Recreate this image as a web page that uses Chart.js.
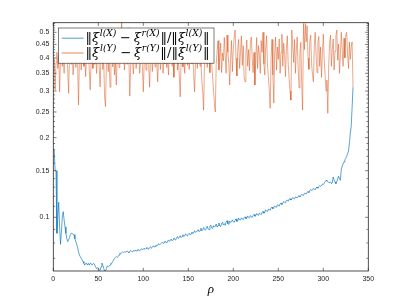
<!DOCTYPE html>
<html><head><meta charset="utf-8">
<script src="https://cdn.jsdelivr.net/npm/chart.js@4.4.0/dist/chart.umd.min.js"></script>
<style>html,body{margin:0;padding:0;background:#fff;}canvas{display:block;}</style>
</head><body>
<canvas id="c" width="407" height="305"></canvas>
<script>
// ---- data ----
const blueVals = [
0.180,0.150,0.150,0.087,0.100,0.114,0.092,0.079,0.088,0.100,
0.105,0.098,0.092,0.087,0.083,0.081,0.082,0.084,0.086,0.087,
0.087,0.086,0.086,0.083,0.081,0.079,0.077,0.074,0.072,0.071,
0.070,0.069,0.068,0.067,0.066,0.067,0.067,0.066,0.067,0.066,
0.067,0.067,0.066,0.066,0.067,0.066,0.065,0.064,0.0645,0.064,
0.0632,0.0630,0.0650,0.0672,0.0660,0.0640,0.0628,0.0628,0.0640,0.0655,
0.0650,0.0655,0.0660,0.0670,0.0670,0.0680,0.0690,0.0700,0.0705,0.0710,
0.0705,0.0710,0.0720,0.0733,0.0730,0.0735,0.0740,0.0735,0.0740,0.0740,
0.0738,0.0746,0.0741,0.0735,0.0744,0.0750,0.0743,0.0739,0.0748,0.0745,
0.0752,0.0744,0.0749,0.0757,0.0750,0.0746,0.0755,0.0761,0.0752,0.0758,
0.0765,0.0756,0.0762,0.0770,0.0761,0.0758,0.0768,0.0775,0.0764,0.0770,
0.0780,0.0771,0.0776,0.0786,0.0779,0.0784,0.0795,0.0787,0.0791,0.0797,
0.0805,0.0796,0.0802,0.0813,0.0806,0.0799,0.0812,0.0821,0.0810,0.0818,
0.0828,0.0815,0.0823,0.0835,0.0826,0.0820,0.0838,0.0846,0.0831,0.0840,
0.0852,0.0838,0.0847,0.0860,0.0845,0.0851,0.0866,0.0854,0.0849,0.0862,
0.0871,0.0858,0.0866,0.0880,0.0868,0.0874,0.0890,0.0877,0.0883,0.0886,
0.0898,0.0882,0.0893,0.0910,0.0889,0.0897,0.0915,0.0900,0.0893,0.0907,
0.0925,0.0904,0.0898,0.0922,0.0935,0.0912,0.0907,0.0930,0.0918,0.0926,
0.0943,0.0919,0.0931,0.0952,0.0928,0.0922,0.0948,0.0958,0.0936,0.0946,
0.0932,0.0960,0.0971,0.0945,0.0940,0.0968,0.0955,0.0962,0.0978,0.0963,
0.0957,0.0975,0.0986,0.0964,0.0972,0.0993,0.0980,0.0976,0.0995,0.0985,
0.0978,0.0996,0.1004,0.0988,0.0993,0.1012,0.0999,0.0995,0.1015,0.1005,
0.0998,0.1016,0.1025,0.1009,0.1014,0.1034,0.1021,0.1017,0.1038,0.1030,
0.1023,0.1045,0.1052,0.1036,0.1048,0.1067,0.1055,0.1050,0.1074,0.1070,
0.1062,0.1085,0.1093,0.1077,0.1088,0.1104,0.1096,0.1090,0.1115,0.1110,
0.1101,0.1124,0.1133,0.1118,0.1130,0.1148,0.1139,0.1134,0.1158,0.1160,
0.1150,0.1170,0.1176,0.1162,0.1171,0.1188,0.1179,0.1174,0.1193,0.1190,
0.1183,0.1200,0.1206,0.1195,0.1208,0.1222,0.1214,0.1210,0.1232,0.1230,
0.1224,0.1243,0.1251,0.1240,0.1262,0.1275,0.1262,0.1268,0.1285,0.1280,
0.1270,0.1292,0.1300,0.1288,0.1305,0.1318,0.1308,0.1316,0.1335,0.1330,
0.1345,0.1362,0.1380,0.1372,0.1360,0.1355,0.1350,0.1362,0.1340,0.1350,
0.1420,0.1385,0.1360,0.1340,0.1365,0.1400,0.1430,0.1395,0.1380,0.1520,
0.1560,0.1590,0.1620,0.1650,0.1670,0.1700,0.1740,0.1780,0.1900,0.2080,
0.2200,0.2600,0.3100
];
const orangeVals = [
0.400,0.303,0.385,0.420,0.365,0.410,0.298,0.395,0.440,0.372,
0.415,0.350,0.430,0.388,0.405,0.362,0.294,0.400,0.452,0.378,
0.420,0.345,0.398,0.435,0.368,0.412,0.380,0.266,0.390,0.425,
0.360,0.405,0.448,0.372,0.395,0.340,0.418,0.385,0.430,0.358,
0.303,0.392,0.440,0.365,0.410,0.378,0.425,0.350,0.398,0.445,
0.372,0.311,0.405,0.430,0.362,0.395,0.285,0.262,0.380,0.418,
0.355,0.400,0.310,0.388,0.440,0.370,0.412,0.345,0.395,0.316,
0.405,0.438,0.368,0.420,0.480,0.550,0.392,0.430,0.360,0.415,
0.445,0.378,0.520,0.400,0.287,0.372,0.425,0.390,0.348,0.410,
0.440,0.365,0.402,0.385,0.430,0.350,0.395,0.420,0.372,0.298,
0.388,0.435,0.360,0.408,0.445,0.378,0.310,0.400,0.425,0.355,
0.398,0.440,0.370,0.415,0.385,0.325,0.405,0.450,0.362,0.395,
0.428,0.350,0.410,0.380,0.440,0.368,0.402,0.345,0.420,0.390,
0.455,0.372,0.400,0.338,0.418,0.385,0.430,0.360,0.398,0.342,
0.285,0.392,0.438,0.370,0.412,0.350,0.405,0.445,0.375,0.420,
0.362,0.400,0.432,0.380,0.415,0.345,0.298,0.390,0.428,0.365,
0.410,0.440,0.372,0.395,0.330,0.300,0.254,0.385,0.420,0.455,
0.368,0.400,0.438,0.352,0.415,0.382,0.340,0.300,0.270,0.250,
0.378,0.425,0.465,0.360,0.405,0.455,0.352,0.418,0.390,0.478,
0.410,0.350,0.488,0.420,0.380,0.316,0.398,0.465,0.355,0.430,
0.480,0.510,0.400,0.342,0.438,0.470,0.365,0.420,0.485,0.375,
0.445,0.340,0.325,0.415,0.468,0.372,0.430,0.358,0.460,0.480,
0.405,0.352,0.420,0.316,0.398,0.478,0.365,0.445,0.410,0.350,
0.465,0.420,0.500,0.380,0.345,0.438,0.485,0.375,0.340,0.300,
0.258,0.400,0.470,0.345,0.270,0.418,0.480,0.360,0.440,0.395,
0.472,0.350,0.420,0.492,0.372,0.455,0.410,0.340,0.435,0.485,
0.380,0.335,0.300,0.277,0.510,0.445,0.385,0.470,0.350,0.428,
0.480,0.372,0.308,0.415,0.458,0.320,0.254,0.540,0.430,0.540,
0.460,0.530,0.400,0.362,0.462,0.488,0.380,0.345,0.325,0.440,
0.500,0.410,0.352,0.458,0.482,0.372,0.440,0.338,0.415,0.492,
0.395,0.345,0.300,0.330,0.247,0.375,0.455,0.488,0.372,0.432,
0.472,0.360,0.425,0.485,0.510,0.392,0.452,0.350,0.415,0.500,
0.432,0.372,0.475,0.400,0.490,0.500,0.410,0.365,0.460,0.395,
0.440,0.460,0.310
];
const rho = blueVals.map((_, i) => i + 1);
const xTicks = [0, 50, 100, 150, 200, 250, 300, 350];
const yTicks = [0.1, 0.15, 0.2, 0.25, 0.3, 0.35, 0.4, 0.45, 0.5];
const yTickLabels = ['0.1', '0.15', '0.2', '0.25', '0.3', '0.35', '0.4', '0.45', '0.5'];
const yMinorTicks = [0.07,0.08,0.09,0.11,0.12,0.13,0.14,0.16,0.17,0.18,0.19,0.21,0.22,0.23,0.24,0.26,0.27,0.28,0.29,0.31,0.32,0.33,0.34,0.36,0.37,0.38,0.39,0.41,0.42,0.43,0.44,0.46,0.47,0.48,0.49,0.51,0.52,0.53,0.54];
const xLabel = 'ρ';
const legendParts = [
  [['‖','n'],['ξ','i'],['l(X)','s'],['−','m'],['ξ','i'],['r(X)','s'],['‖/‖','n'],['ξ','i'],['l(X)','s'],['‖','n']],
  [['‖','n'],['ξ','i'],['l(Y)','s'],['−','m'],['ξ','i'],['r(Y)','s'],['‖/‖','n'],['ξ','i'],['l(Y)','s'],['‖','n']]
];
const BLUE = '#0072BD', ORANGE = '#D95319';
const seriesColors = [BLUE, ORANGE];

const axesPlugin = {
  id: 'maxes',
  afterDatasetsDraw(chart) {
    const {ctx, chartArea: ca, scales: {x, y}} = chart;
    ctx.save();
    ctx.strokeStyle = '#262626';
    ctx.lineWidth = 0.6;
    ctx.beginPath();
    xTicks.forEach(v => {
      const px = x.getPixelForValue(v);
      ctx.moveTo(px, ca.bottom); ctx.lineTo(px, ca.bottom - 3.2);
      ctx.moveTo(px, ca.top); ctx.lineTo(px, ca.top + 3.2);
    });
    yTicks.forEach(v => {
      const py = y.getPixelForValue(v);
      ctx.moveTo(ca.left, py); ctx.lineTo(ca.left + 3.2, py);
      ctx.moveTo(ca.right, py); ctx.lineTo(ca.right - 3.2, py);
    });
    yMinorTicks.forEach(v => {
      const py = y.getPixelForValue(v);
      ctx.moveTo(ca.left, py); ctx.lineTo(ca.left + 1.8, py);
      ctx.moveTo(ca.right, py); ctx.lineTo(ca.right - 1.8, py);
    });
    ctx.stroke();
    ctx.lineWidth = 0.8;
    ctx.strokeRect(ca.left, ca.top, ca.right - ca.left, ca.bottom - ca.top);
    ctx.restore();
  },
  afterDraw(chart) {
    const {ctx, chartArea: ca} = chart;
    const bx = ca.left + 5.2, by = ca.top + 5.3, bw = 155.5, bh = 35.2;
    ctx.save();
    ctx.fillStyle = '#fff';
    ctx.fillRect(bx, by, bw, bh);
    ctx.strokeStyle = '#262626';
    ctx.lineWidth = 0.6;
    ctx.strokeRect(bx, by, bw, bh);
    const fam = '"DejaVu Serif","Liberation Serif",serif';
    const fontFor = (k, s) => k === 'i' ? `italic ${s}px ${fam}` : k === 's' ? `italic ${s * 0.7}px ${fam}` : `${s}px ${fam}`;
    const gapAfter = (k, s) => k === 'i' ? s * 0.04 : k === 's' ? s * 0.06 : 0;
    const gapBefore = (k, s) => k === 'm' ? s * 0.22 : 0;
    const gapPost = (k, s) => k === 'm' ? s * 0.22 : 0;
    legendParts.forEach((parts, li) => {
      const ly = by + 10.2 + li * 14.8;
      ctx.strokeStyle = seriesColors[li];
      ctx.lineWidth = 0.7;
      ctx.beginPath();
      ctx.moveTo(bx + 3.2, ly); ctx.lineTo(bx + 25, ly);
      ctx.stroke();
      const measure = s => parts.reduce((w, [t, k]) => {
        ctx.font = fontFor(k, s);
        return w + gapBefore(k, s) + ctx.measureText(t).width + gapAfter(k, s) + gapPost(k, s);
      }, 0);
      let size = 12;
      size = size * 124 / measure(size);
      let tx = bx + 27;
      const base = ly + 3.6;
      ctx.fillStyle = '#000';
      ctx.textBaseline = 'alphabetic';
      ctx.textAlign = 'left';
      parts.forEach(([t, k]) => {
        ctx.font = fontFor(k, size);
        tx += gapBefore(k, size);
        const yy = k === 's' ? base - size * 0.45 : base;
        ctx.fillText(t, tx, yy);
        tx += ctx.measureText(t).width + gapAfter(k, size) + gapPost(k, size);
      });
    });
    ctx.restore();
  }
};

new Chart(document.getElementById('c'), {
  type: 'line',
  data: {
    datasets: [
      { label: 'X', data: rho.map((r, i) => ({x: r, y: blueVals[i]})), borderColor: BLUE, borderWidth: 0.65, pointRadius: 0, tension: 0, order: 2 },
      { label: 'Y', data: rho.map((r, i) => ({x: r, y: orangeVals[i]})), borderColor: ORANGE, borderWidth: 0.5, pointRadius: 0, tension: 0, order: 1 }
    ]
  },
  options: {
    responsive: false,
    devicePixelRatio: 1,
    animation: false,
    layout: { padding: { left: 0, top: 22.7, right: 38.7, bottom: 0 } },
    plugins: { legend: { display: false }, tooltip: { enabled: false } },
    scales: {
      x: {
        type: 'linear', min: 0, max: 350,
        afterBuildTicks: s => { s.ticks = xTicks.map(v => ({value: v})); },
        afterFit: s => { s.height = 34; },
        grid: { display: false, drawTicks: false, tickLength: 0 },
        border: { display: false },
        ticks: { autoSkip: false, maxRotation: 0, padding: 4, color: '#262626', font: { family: 'Helvetica, Arial, "Liberation Sans", sans-serif', size: 7 }, callback: v => String(v) },
        title: { display: true, text: xLabel, color: '#000', padding: { top: 0, bottom: 8 }, font: { family: '"Liberation Serif","DejaVu Serif",serif', style: 'italic', size: 13 } }
      },
      y: {
        type: 'logarithmic', min: 0.06267, max: 0.5436,
        afterBuildTicks: s => { s.ticks = yTicks.map(v => ({value: v})); },
        afterFit: s => { s.width = 53.3; },
        grid: { display: false, drawTicks: false, tickLength: 0 },
        border: { display: false },
        ticks: { autoSkip: false, padding: 4, color: '#262626', font: { family: 'Helvetica, Arial, "Liberation Sans", sans-serif', size: 7 }, callback: (v, i) => yTickLabels[i] }
      }
    }
  },
  plugins: [axesPlugin]
});
</script>
</body></html>
